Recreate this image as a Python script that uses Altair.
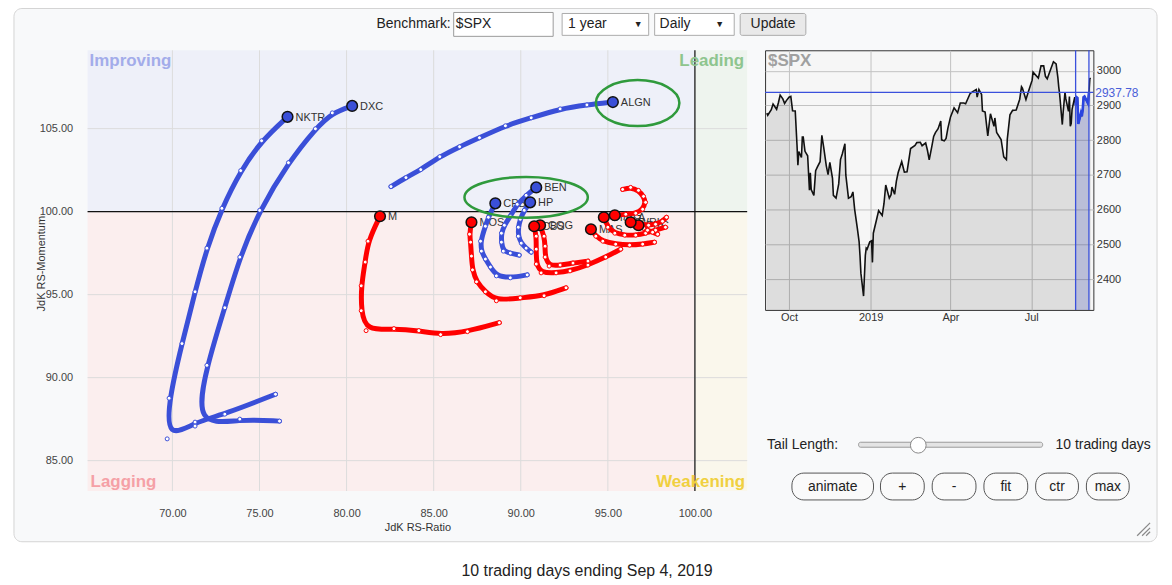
import altair as alt
import pandas as pd

FONT = "Liberation Sans"
BLUE = "#3a4fd8"
RED = "#ff0000"
GREEN = "#2f9a3c"

# ---------------- RRG tails (JdK RS-Ratio / JdK RS-Momentum), oldest -> newest
nktr_x = [75.92, 73.01, 71.30, 69.70, 69.81, 70.55, 71.30, 71.98, 72.84, 73.92, 75.12, 76.61]
nktr_y = [89.00, 87.80, 87.32, 86.31, 88.76, 92.05, 95.17, 97.80, 100.20, 102.47, 104.27, 105.71]
dxc_x = [76.15, 73.87, 71.30, 71.98, 73.01, 73.87, 75.01, 76.66, 78.21, 79.18, 80.32]
dxc_y = [87.38, 87.50, 87.08, 90.74, 94.21, 97.26, 100.08, 102.95, 104.99, 105.95, 106.37]
algn_x = [82.55, 83.41, 84.26, 85.35, 86.49, 87.63, 89.12, 90.60, 92.26, 93.80, 95.29]
algn_y = [101.51, 102.05, 102.53, 103.31, 103.91, 104.45, 105.17, 105.65, 106.19, 106.43, 106.60]
cpb_x = [90.37, 89.40, 88.60, 88.26, 87.97, 87.74, 87.69, 87.97, 88.14, 88.54]
cpb_y = [96.19, 96.01, 96.13, 96.66, 97.14, 97.62, 98.22, 99.12, 99.66, 100.50]
ben_x = [89.91, 89.40, 89.00, 88.89, 88.89, 89.06, 89.40, 89.80, 90.31, 90.89]
ben_y = [97.38, 97.50, 97.62, 98.16, 98.70, 99.18, 99.72, 100.44, 100.98, 101.46]
hp_x = [90.60, 90.31, 90.03, 89.86, 89.86, 89.97, 90.20, 90.54]
hp_y = [97.56, 97.80, 98.10, 98.52, 99.06, 99.54, 100.08, 100.56]
m_x = [88.77, 86.94, 85.40, 84.15, 82.72, 81.12, 80.84, 80.84, 81.07, 81.23, 81.92]
m_y = [93.31, 92.77, 92.59, 92.83, 92.95, 92.83, 94.03, 95.53, 96.96, 98.22, 99.72]
mos_x = [92.60, 91.34, 89.97, 88.60, 87.97, 87.46, 87.23, 87.17, 87.12, 87.06, 87.17]
mos_y = [95.41, 94.93, 94.81, 94.63, 95.17, 95.77, 96.49, 97.32, 98.16, 98.64, 99.36]
cbs_x = [95.74, 94.88, 93.86, 92.83, 92.03, 91.17, 90.89, 90.89, 90.89, 90.77]
cbs_y = [97.74, 97.26, 96.78, 96.43, 96.31, 96.31, 96.84, 97.74, 98.52, 99.12]
cog_x = [93.86, 93.00, 92.26, 91.63, 91.40, 91.40, 91.34, 91.11]
cog_y = [97.02, 96.90, 96.78, 96.72, 97.26, 97.92, 98.52, 99.18]
mas_x = [97.68, 97.00, 96.25, 95.45, 94.71, 94.31, 94.03]
mas_y = [98.16, 98.04, 97.98, 98.04, 98.22, 98.52, 98.94]
disca_x = [98.31, 97.74, 97.17, 96.60, 95.97, 95.40, 95.00, 94.77]
disca_y = [99.06, 98.88, 98.70, 98.58, 98.58, 98.70, 99.06, 99.66]
ipg_x = [95.85, 96.31, 96.76, 97.05, 97.17, 97.00, 96.60, 96.03, 95.40]
ipg_y = [101.34, 101.46, 101.28, 100.92, 100.56, 100.14, 99.90, 99.84, 99.78]
wrk_x = [98.37, 98.14, 97.74, 97.34, 96.94, 96.60, 96.31]
wrk_y = [99.66, 99.42, 99.24, 99.18, 99.24, 99.30, 99.36]
frc_x = [97.86, 97.57, 97.28, 97.05, 96.76]
frc_y = [98.64, 98.76, 98.88, 99.00, 99.18]

rrg_series = [
    ("NKTR", "blue", nktr_x, nktr_y), ("DXC", "blue", dxc_x, dxc_y),
    ("ALGN", "blue", algn_x, algn_y), ("CPB", "blue", cpb_x, cpb_y),
    ("BEN", "blue", ben_x, ben_y), ("HP", "blue", hp_x, hp_y),
    ("M", "red", m_x, m_y), ("MOS", "red", mos_x, mos_y),
    ("CBS", "red", cbs_x, cbs_y), ("COG", "red", cog_x, cog_y),
    ("MAS", "red", mas_x, mas_y), ("DISCA", "red", disca_x, disca_y),
    ("IPG", "red", ipg_x, ipg_y), ("WRK", "red", wrk_x, wrk_y),
    ("FRC", "red", frc_x, frc_y),
]

x_ticks = [70, 75, 80, 85, 90, 95, 100]
y_ticks = [85, 90, 95, 100, 105]
x_dom = [65.13, 103.0]
y_dom = [83.17, 109.72]
center = 100
quad_names = ["Improving", "Leading", "Lagging", "Weakening"]
ellipse_algn = {"x": [96.71], "y": [106.54]}
ellipse_ben = {"x": [90.31], "y": [100.86]}

# ---------------- $SPX price (daily closes)
spx_dates = (
    ["2018-09-06", "2018-09-07", "2018-09-11", "2018-09-13", "2018-09-17", "2018-09-19", "2018-09-21", "2018-09-24", "2018-09-26", "2018-09-28"]
    + ["2018-10-01", "2018-10-03", "2018-10-05", "2018-10-08", "2018-10-10", "2018-10-11", "2018-10-12", "2018-10-15", "2018-10-16", "2018-10-17", "2018-10-19", "2018-10-22", "2018-10-24", "2018-10-25", "2018-10-26", "2018-10-29", "2018-10-31"]
    + ["2018-11-02", "2018-11-05", "2018-11-07", "2018-11-09", "2018-11-12", "2018-11-14", "2018-11-16", "2018-11-19", "2018-11-20", "2018-11-23", "2018-11-26", "2018-11-28", "2018-11-30"]
    + ["2018-12-03", "2018-12-04", "2018-12-07", "2018-12-10", "2018-12-12", "2018-12-14", "2018-12-17", "2018-12-19", "2018-12-20", "2018-12-21", "2018-12-24", "2018-12-26", "2018-12-27", "2018-12-28", "2018-12-31"]
    + ["2019-01-02", "2019-01-03", "2019-01-04", "2019-01-08", "2019-01-10", "2019-01-14", "2019-01-16", "2019-01-18", "2019-01-22", "2019-01-24", "2019-01-25", "2019-01-28", "2019-01-30"]
    + ["2019-02-01", "2019-02-05", "2019-02-08", "2019-02-11", "2019-02-15", "2019-02-20", "2019-02-22", "2019-02-26", "2019-02-28"]
    + ["2019-03-04", "2019-03-06", "2019-03-08", "2019-03-11", "2019-03-13", "2019-03-15", "2019-03-18", "2019-03-21", "2019-03-22", "2019-03-25", "2019-03-27", "2019-03-29"]
    + ["2019-04-01", "2019-04-05", "2019-04-09", "2019-04-12", "2019-04-16", "2019-04-18", "2019-04-23", "2019-04-26", "2019-04-30"]
    + ["2019-05-01", "2019-05-03", "2019-05-06", "2019-05-07", "2019-05-10", "2019-05-13", "2019-05-14", "2019-05-16", "2019-05-20", "2019-05-21", "2019-05-23", "2019-05-28", "2019-05-31"]
    + ["2019-06-03", "2019-06-04", "2019-06-07", "2019-06-10", "2019-06-14", "2019-06-18", "2019-06-20", "2019-06-21", "2019-06-25", "2019-06-28"]
    + ["2019-07-02", "2019-07-03", "2019-07-09", "2019-07-12", "2019-07-15", "2019-07-17", "2019-07-19", "2019-07-23", "2019-07-26", "2019-07-29", "2019-07-31"]
    + ["2019-08-01", "2019-08-02", "2019-08-05", "2019-08-06", "2019-08-08", "2019-08-09", "2019-08-12", "2019-08-13", "2019-08-14", "2019-08-15", "2019-08-16", "2019-08-19", "2019-08-20", "2019-08-21", "2019-08-22", "2019-08-23", "2019-08-26", "2019-08-27", "2019-08-28", "2019-08-29", "2019-08-30"]
    + ["2019-09-03", "2019-09-04", "2019-09-05", "2019-09-06"]
)
spx_close = (
    [2878, 2872, 2888, 2904, 2889, 2908, 2930, 2919, 2906, 2914]
    + [2924, 2926, 2885, 2884, 2786, 2728, 2767, 2750, 2809, 2809, 2768, 2755, 2656, 2706, 2658, 2641, 2712]
    + [2723, 2738, 2814, 2781, 2726, 2701, 2736, 2690, 2641, 2633, 2674, 2744, 2760]
    + [2790, 2700, 2633, 2637, 2651, 2600, 2546, 2507, 2467, 2417, 2351, 2468, 2489, 2486, 2507]
    + [2510, 2448, 2532, 2575, 2597, 2583, 2617, 2671, 2633, 2643, 2665, 2644, 2682]
    + [2707, 2738, 2708, 2709, 2776, 2785, 2793, 2794, 2784]
    + [2792, 2771, 2743, 2783, 2811, 2822, 2833, 2855, 2801, 2798, 2805, 2834]
    + [2867, 2893, 2879, 2907, 2907, 2905, 2934, 2940, 2946]
    + [2924, 2946, 2932, 2884, 2881, 2812, 2834, 2876, 2840, 2864, 2822, 2802, 2752]
    + [2744, 2803, 2873, 2886, 2887, 2918, 2954, 2950, 2917, 2942]
    + [2973, 2996, 2979, 3014, 3014, 2984, 2977, 3005, 3026, 3020, 2980]
    + [2953, 2932, 2845, 2882, 2938, 2919, 2883, 2926, 2840, 2848, 2889, 2924, 2900, 2924, 2922, 2847, 2878, 2869, 2888, 2924, 2926]
    + [2906, 2937.78, 2977, 2979]
)
tail_start = "2019-08-20"
tail_end = "2019-09-04"
price_ticks = [2400, 2500, 2600, 2700, 2800, 2900, 3000]

# ---------------- tables
rows = []
for sym, grp, xs, ys in rrg_series:
    for i, (a, b) in enumerate(zip(xs, ys)):
        rows.append({"sym": sym, "grp": grp, "i": i, "x": a, "y": b})
tails = pd.DataFrame(rows)
heads = tails.sort_values("i").groupby("sym").tail(1)

quad_box = {
    "Improving": (x_dom[0], center, center, y_dom[1]),
    "Leading": (center, x_dom[1], center, y_dom[1]),
    "Lagging": (x_dom[0], center, y_dom[0], center),
    "Weakening": (center, x_dom[1], y_dom[0], center),
}
quad_bg = {"Improving": "#eef0f9", "Leading": "#eef4ee", "Lagging": "#fbeeee", "Weakening": "#faf7ec"}
quad_fg = {"Improving": "#a3acea", "Leading": "#8ec58e", "Lagging": "#f5a0a6", "Weakening": "#f0d040"}

n = min(len(spx_dates), len(spx_close))
spx = pd.DataFrame({"date": spx_dates[:n], "close": spx_close[:n]})
tail_px = spx[(spx["date"] >= tail_start) & (spx["date"] <= tail_end)]
last_close = float(spx.loc[spx["date"] == tail_end, "close"].iloc[0])

one = pd.DataFrame({"k": [0]})

# ---------------- main RRG chart
xscale = alt.Scale(domain=x_dom, nice=False, zero=False)
yscale = alt.Scale(domain=y_dom, nice=False, zero=False)
xaxis = alt.Axis(values=x_ticks, format=".2f", grid=False, ticks=False, tickSize=0, domain=False, zindex=2,
                 labelPadding=23, labelBaseline="middle", labelFontSize=11, labelColor="#444",
                 title="JdK RS-Ratio", titleFontSize=11, titleFontWeight="normal", titleColor="#333",
                 titleY=37, titleBaseline="middle")
yaxis = alt.Axis(values=y_ticks, format=".2f", grid=False, ticks=False, tickSize=0, domain=False, zindex=2,
                 labelPadding=15, labelFontSize=11, labelColor="#444",
                 title="JdK RS-Momentum", titleFontSize=11, titleFontWeight="normal", titleColor="#333",
                 titleX=-46, titleY=214, titleAngle=-90, titleAlign="center", titleBaseline="middle")


def X(f):
    return alt.X(f"{f}:Q", scale=xscale, axis=xaxis)


def Y(f):
    return alt.Y(f"{f}:Q", scale=yscale, axis=yaxis)


grp_scale = alt.Scale(domain=["blue", "red"], range=[BLUE, RED])


def ui_rect(x0, x1, y0, y1, fill, stroke, r=0, sw=1.0):
    return alt.Chart(one).mark_rect(fill=fill, stroke=stroke, strokeWidth=sw, cornerRadius=r).encode(
        x=alt.value(x0), x2=alt.value(x1), y=alt.value(y0), y2=alt.value(y1))


def ui_text(x, y, t, size=14, align="left", color="#222", weight="normal"):
    return alt.Chart(one).mark_text(text=t, fontSize=size, align=align, baseline="middle",
                                    color=color, fontWeight=weight, font=FONT).encode(
        x=alt.value(x), y=alt.value(y))


main_layers = [
    # page panel and header controls
    ui_rect(-74, 1075, -42, 494, "#f8f9fa", "#d4d4d4", r=8),
    ui_text(365, -26, "Benchmark:", align="right"),
    ui_rect(368, 468, -38, -14, "#ffffff", "#9a9a9a"),
    ui_text(370, -26, "$SPX"),
    ui_rect(477, 564, -37, -15, "#ffffff", "#aaaaaa"),
    ui_text(483, -26, "1 year"),
    ui_text(549, -26, "▼", size=9),
    ui_rect(570, 650, -37, -15, "#ffffff", "#aaaaaa"),
    ui_text(575, -26, "Daily"),
    ui_text(631, -26, "▼", size=9),
    ui_rect(656, 722, -37, -15, "#e9e9e9", "#aaaaaa", r=2),
    ui_text(689, -26, "Update", align="center"),
    ui_text(502, 523, "10 trading days ending Sep 4, 2019", size=16, align="center"),
]
# quadrant backgrounds
for q in quad_names:
    a0, a1, b0, b1 = quad_box[q]
    main_layers.append(
        alt.Chart(pd.DataFrame({"x0": [a0], "x1": [a1], "y0": [b0], "y1": [b1]})).mark_rect(
            fill=quad_bg[q]).encode(x=X("x0"), x2="x1", y=Y("y0"), y2="y1"))

main_layers += [
    alt.Chart(pd.DataFrame({"v": x_ticks})).mark_rule(color="#dcdcdc", strokeWidth=1).encode(x=X("v")),
    alt.Chart(pd.DataFrame({"v": y_ticks})).mark_rule(color="#dcdcdc", strokeWidth=1).encode(y=Y("v")),
    alt.Chart(pd.DataFrame({"v": [center]})).mark_rule(color="#111", strokeWidth=1.2).encode(x=X("v")),
    alt.Chart(pd.DataFrame({"v": [center]})).mark_rule(color="#111", strokeWidth=1.2).encode(y=Y("v")),
]

corner_pos = {
    "Improving": (x_dom[0], y_dom[1], "left", 2, 11),
    "Leading": (x_dom[1], y_dom[1], "right", -3, 11),
    "Lagging": (x_dom[0], y_dom[0], "left", 3, -9),
    "Weakening": (x_dom[1], y_dom[0], "right", -2, -9),
}
for q in quad_names:
    qx, qy, al, ddx, ddy = corner_pos[q]
    main_layers.append(
        alt.Chart(pd.DataFrame({"q": [q], "x": [qx], "y": [qy]})).mark_text(
            align=al, baseline="middle", dx=ddx, dy=ddy, fontSize=17, fontWeight="bold", font=FONT,
            color=quad_fg[q]
        ).encode(x=X("x"), y=Y("y"), text="q:N")
    )

main_layers += [
    alt.Chart(heads).mark_text(align="left", baseline="middle", dx=8, dy=1, fontSize=11,
                               color="#333", font=FONT).encode(x=X("x"), y=Y("y"), text="sym:N"),
    alt.Chart(tails).mark_line(interpolate="basis", strokeWidth=5, strokeCap="round",
                               strokeJoin="round").encode(
        x=X("x"), y=Y("y"), detail="sym:N", order="i:Q",
        color=alt.Color("grp:N", scale=grp_scale, legend=None)),
    alt.Chart(tails).mark_point(filled=True, size=16, strokeWidth=1, opacity=1).encode(
        x=X("x"), y=Y("y"), fill=alt.value("white"),
        stroke=alt.Stroke("grp:N", scale=grp_scale, legend=None)),
    alt.Chart(heads).mark_point(filled=True, size=115, stroke="#111", strokeWidth=1.5, opacity=1).encode(
        x=X("x"), y=Y("y"), fill=alt.Fill("grp:N", scale=grp_scale, legend=None)),
    alt.Chart(pd.DataFrame(ellipse_algn)).mark_point(
        shape="M -1 0 A 1 0.55 0 1 1 1 0 A 1 0.55 0 1 1 -1 0", size=84 * 84, filled=False,
        stroke=GREEN, strokeWidth=2.5, opacity=1).encode(x=X("x"), y=Y("y")),
    alt.Chart(pd.DataFrame(ellipse_ben)).mark_point(
        shape="M -1 0 A 1 0.33 0 1 1 1 0 A 1 0.33 0 1 1 -1 0", size=124 * 124, filled=False,
        stroke=GREEN, strokeWidth=2.5, opacity=1).encode(x=X("x"), y=Y("y")),
]

main = alt.layer(*main_layers).properties(
    width=663, height=443,
    view=alt.ViewBackground(fill="#ffffff", stroke="#333333", strokeWidth=1.5))

# ---------------- price chart
pxs = alt.X("date:T",
            scale=alt.Scale(domain=[alt.DateTime(year=2018, month=9, date=4),
                                    alt.DateTime(year=2019, month=9, date=9)]),
            axis=alt.Axis(values=[alt.DateTime(year=2018, month=10, date=1),
                                  alt.DateTime(year=2019, month=1, date=1),
                                  alt.DateTime(year=2019, month=4, date=1),
                                  alt.DateTime(year=2019, month=7, date=1)],
                          labelExpr="month(datum.value) == 0 ? timeFormat(datum.value, '%Y') : timeFormat(datum.value, '%b')",
                          grid=True, gridColor="#c2c2c2", ticks=False, tickSize=0, domain=False,
                          labelPadding=8, labelBaseline="middle", labelFontSize=11, labelColor="#333",
                          title=None))
pys = alt.Y("close:Q", scale=alt.Scale(domain=[2311, 3059], nice=False, zero=False),
            axis=alt.Axis(orient="right", values=price_ticks, format="d", grid=True, gridColor="#c2c2c2",
                          ticks=False, tickSize=0, domain=False, labelPadding=3, labelFontSize=11,
                          labelColor="#333", title=None))

price_layers = [
    alt.Chart(spx).mark_area(color="#000000", opacity=0.1, clip=True).encode(x=pxs, y=pys),
    alt.Chart(tail_px).mark_area(color="#3048c8", opacity=0.2, clip=True).encode(x=pxs, y=pys),
    alt.Chart(spx).mark_line(color="#111111", strokeWidth=1.6).encode(x=pxs, y=pys),
    alt.Chart(tail_px).mark_line(color="#2a44e0", strokeWidth=2.6).encode(x=pxs, y=pys),
    alt.Chart(pd.DataFrame({"date": [tail_start, tail_end]})).mark_rule(color="#3a50dc", strokeWidth=1.3).encode(x=pxs),
    alt.Chart(pd.DataFrame({"close": [last_close]})).mark_rule(color="#3a50dc", strokeWidth=1.3).encode(y=pys),
    alt.Chart(pd.DataFrame({"close": [last_close]})).mark_text(
        align="left", baseline="middle", fontSize=12, color="#4a5ed8", font=FONT, dy=1
    ).encode(y=pys, x=alt.value(332), text=alt.Text("close:Q", format=".2f")),
    ui_text(3, 11, "$SPX", size=17, color="#a0a0a0", weight="bold"),
    # controls
    ui_text(2, 397, "Tail Length:"),
    ui_rect(94, 279, 394, 399, "#e4e4e4", "#9a9a9a", r=2),
    alt.Chart(one).mark_point(shape="circle", filled=True, fill="#ffffff", stroke="#888888",
                              strokeWidth=1, size=250, opacity=1).encode(x=alt.value(154), y=alt.value(397)),
    ui_text(292, 397, "10 trading days"),
]
buttons = [("animate", 27, 109), ("+", 116, 160), ("-", 168, 212), ("fit", 220, 264),
           ("ctr", 272, 315), ("max", 323, 366)]
for lab, b0, b1 in buttons:
    price_layers.append(ui_rect(b0, b1, 425, 452, "#fafafa", "#555555", r=12))
    price_layers.append(ui_text((b0 + b1) / 2, 439, lab, align="center"))
for a in [(374, 488, 387, 475), (379, 488, 387, 480), (383, 488, 387, 484)]:
    price_layers.append(alt.Chart(one).mark_rule(color="#888888", strokeWidth=1.2).encode(
        x=alt.value(a[0]), y=alt.value(a[1]), x2=alt.value(a[2]), y2=alt.value(a[3])))

price = alt.layer(*price_layers).properties(
    width=330, height=261,
    view=alt.ViewBackground(fill="#f6f6f6", stroke="#333333", strokeWidth=1))

pad = {"left": 4, "top": -3, "right": 5, "bottom": 5}
chart = alt.hconcat(main, price, spacing=18, bounds="flush").properties(
    padding=pad
).configure(padding=pad).configure_axis(labelFont=FONT, titleFont=FONT).configure_text(font=FONT)

chart.save("out.html", embed_options={"renderer": "svg", "actions": False})
